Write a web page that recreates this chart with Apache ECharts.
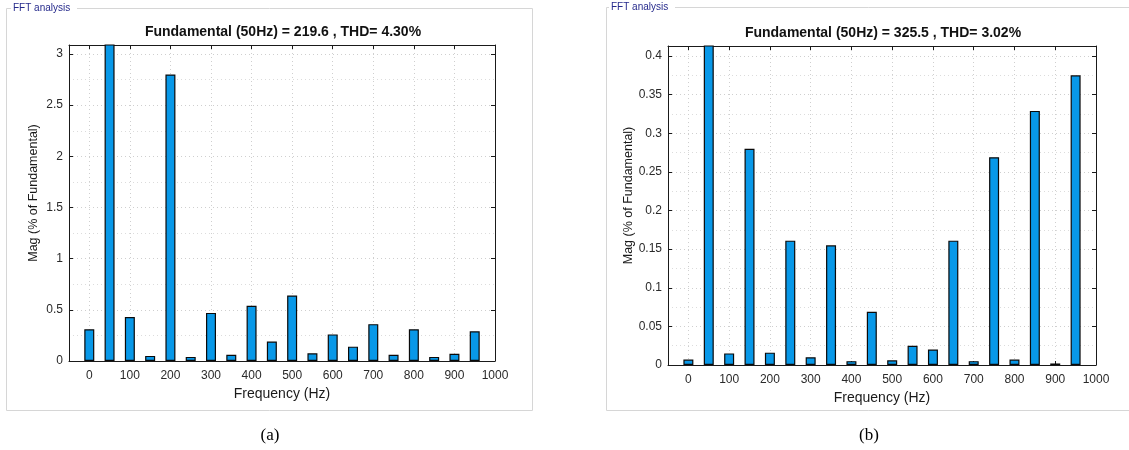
<!DOCTYPE html>
<html><head><meta charset="utf-8">
<script src="https://cdn.jsdelivr.net/npm/echarts@6/dist/echarts.min.js"></script>
<style>html,body{margin:0;padding:0;background:#fff}#c{width:1129px;height:450px}</style>
</head><body><div id="c"></div>
<script>
// ---- data ----
const freqs = [0, 50, 100, 150, 200, 250, 300, 350, 400, 450, 500, 550, 600, 650, 700, 750, 800, 850, 900, 950];
// (a) magnitudes, % of fundamental (50 Hz bar = 100, clipped by the axis)
const magA = [0.31, 100, 0.43, 0.05, 2.80, 0.04, 0.47, 0.06, 0.54, 0.19, 0.64, 0.075, 0.26, 0.14, 0.36, 0.06, 0.31, 0.04, 0.07, 0.29];
// (b) magnitudes
const magB = [0.007, 100, 0.015, 0.280, 0.016, 0.161, 0.010, 0.155, 0.005, 0.069, 0.006, 0.025, 0.020, 0.161, 0.005, 0.269, 0.007, 0.329, 0.002, 0.375];
const xTicks = [0, 100, 200, 300, 400, 500, 600, 700, 800, 900, 1000];
const yTicksA = [0, 0.5, 1, 1.5, 2, 2.5, 3];
const yMinorA = [0.25, 0.75, 1.25, 1.75, 2.25, 2.75];
const yTicksB = [0, 0.05, 0.1, 0.15, 0.2, 0.25, 0.3, 0.35, 0.4];
const yMinorB = [0.025, 0.075, 0.125, 0.175, 0.225, 0.275, 0.325, 0.375];
const titleA = 'Fundamental (50Hz) = 219.6 , THD= 4.30%';
const titleB = 'Fundamental (50Hz) = 325.5 , THD= 3.02%';
const panelTitle = 'FFT analysis';
const xName = 'Frequency (Hz)';
const yName = 'Mag (% of Fundamental)';
const captions = ['(a)', '(b)'];

const FONT = 'Liberation Sans, Arial, sans-serif';
const chart = echarts.init(document.getElementById('c'), null, {renderer: 'canvas'});

const panels = [
  {grid: {left: 69, top: 45, width: 426, height: 316}, ymax: 3.088, yTicks: yTicksA, yMinor: yMinorA, mags: magA},
  {grid: {left: 668, top: 46, width: 428, height: 319}, ymax: 0.413, yTicks: yTicksB, yMinor: yMinorB, mags: magB}
];

const fmt = v => String(v);
const grids = [], xAxes = [], yAxes = [], series = [];
panels.forEach((p, i) => {
  grids.push(p.grid);
  const axLine = {show: true, onZero: false, lineStyle: {color: '#1a1a1a', width: 1}};
  const tick = vals => ({show: true, inside: true, length: 4, customValues: vals, lineStyle: {color: '#1a1a1a'}});
  xAxes.push({
    gridIndex: i, type: 'value', min: -50, max: 1000, position: 'bottom',
    axisLine: axLine, axisTick: tick(xTicks),
    axisLabel: {customValues: xTicks, formatter: fmt, color: '#2a2a2a', fontSize: 12, fontFamily: FONT, margin: 9},
    splitLine: {show: true, lineStyle: {type: [1, 3], color: '#cfcfcf', width: 1}},
    name: xName, nameLocation: 'middle', nameGap: 26,
    nameTextStyle: {fontSize: 14, color: '#1a1a1a', fontFamily: FONT}
  });
  xAxes.push({
    gridIndex: i, type: 'value', min: -50, max: 1000, position: 'top',
    axisLine: axLine, axisTick: tick(xTicks), axisLabel: {show: false}, splitLine: {show: false}
  });
  yAxes.push({
    gridIndex: i, type: 'value', min: 0, max: p.ymax, position: 'left',
    axisLine: axLine, axisTick: tick(p.yTicks),
    axisLabel: {customValues: p.yTicks, formatter: fmt, color: '#2a2a2a', fontSize: 12, fontFamily: FONT, margin: 6},
    splitLine: {show: true, lineStyle: {type: [1, 3], color: '#cfcfcf', width: 1}},
    name: yName, nameLocation: 'middle', nameGap: 29,
    nameTextStyle: {fontSize: 12.5, color: '#1a1a1a', fontFamily: FONT, padding: [0, 0, 0, 20]}
  });
  yAxes.push({
    gridIndex: i, type: 'value', min: 0, max: p.ymax, position: 'right',
    axisLine: axLine, axisTick: tick(p.yTicks), axisLabel: {show: false}, splitLine: {show: false}
  });
  yAxes.push({
    gridIndex: i, type: 'value', min: 0, max: p.ymax, position: 'left',
    axisLine: {show: false}, axisTick: {show: false, customValues: p.yMinor}, axisLabel: {show: false},
    splitLine: {show: true, lineStyle: {type: [1, 3], color: '#dcdcdc', width: 1}}
  });
  series.push({
    type: 'bar', xAxisIndex: i * 2, yAxisIndex: i * 3,
    data: freqs.map((f, k) => [f, p.mags[k]]),
    barWidth: 10, clip: true, silent: true,
    itemStyle: {color: '#0898e8', borderColor: '#0a0a0a', borderWidth: 1.2}
  });
});

const graphic = [
  // panel frames
  {type: 'rect', shape: {x: 6.5, y: 8.5, width: 526, height: 402}, style: {fill: 'none', stroke: '#d6d6d6', lineWidth: 1}, z: 1},
  {type: 'rect', shape: {x: 606.5, y: 7.5, width: 540, height: 403}, style: {fill: 'none', stroke: '#d6d6d6', lineWidth: 1}, z: 1},
  {type: 'rect', shape: {x: 11, y: 2, width: 66, height: 13}, style: {fill: '#fff'}, z: 2},
  {type: 'rect', shape: {x: 609, y: 1, width: 66, height: 13}, style: {fill: '#fff'}, z: 2},
  {type: 'text', x: 13, y: 8.5, style: {text: panelTitle, fontSize: 10, fontFamily: FONT, fill: '#262a8c', verticalAlign: 'middle'}, z: 3},
  {type: 'text', x: 611, y: 7.5, style: {text: panelTitle, fontSize: 10, fontFamily: FONT, fill: '#262a8c', verticalAlign: 'middle'}, z: 3},
  // chart titles
  {type: 'text', x: 283, y: 32, style: {text: titleA, fontSize: 14, fontWeight: 'bold', fontFamily: FONT, fill: '#111', align: 'center', verticalAlign: 'middle'}, z: 3},
  {type: 'text', x: 883, y: 33, style: {text: titleB, fontSize: 14, fontWeight: 'bold', fontFamily: FONT, fill: '#111', align: 'center', verticalAlign: 'middle'}, z: 3},
  // captions
  {type: 'text', x: 270, y: 436, style: {text: captions[0], fontSize: 17, fontFamily: 'Liberation Serif, Times New Roman, serif', fill: '#000', align: 'center', verticalAlign: 'middle'}, z: 3},
  {type: 'text', x: 869, y: 436, style: {text: captions[1], fontSize: 17, fontFamily: 'Liberation Serif, Times New Roman, serif', fill: '#000', align: 'center', verticalAlign: 'middle'}, z: 3}
];

chart.setOption({
  animation: false,
  backgroundColor: '#fff',
  grid: grids, xAxis: xAxes, yAxis: yAxes, series: series, graphic: graphic
});
</script></body></html>
